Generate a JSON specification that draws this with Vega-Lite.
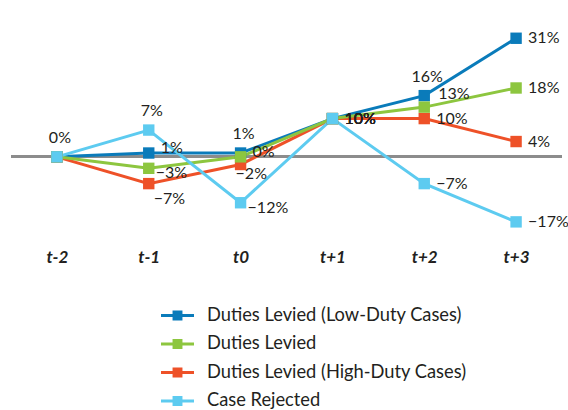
{
  "$schema": "https://vega.github.io/schema/vega-lite/v6.json",
  "width": 551,
  "height": 241,
  "autosize": {"type": "none"},
  "padding": {"left": 11, "top": 0, "right": 6, "bottom": 169},
  "background": "white",
  "config": {"view": {"stroke": null}, "font": "Lato"},
  "data": {"values": [
    {"t": "t-2", "s": "Duties Levied (Low-Duty Cases)", "v": 0},
    {"t": "t-1", "s": "Duties Levied (Low-Duty Cases)", "v": 1},
    {"t": "t0", "s": "Duties Levied (Low-Duty Cases)", "v": 1},
    {"t": "t+1", "s": "Duties Levied (Low-Duty Cases)", "v": 10},
    {"t": "t+2", "s": "Duties Levied (Low-Duty Cases)", "v": 16},
    {"t": "t+3", "s": "Duties Levied (Low-Duty Cases)", "v": 31},
    {"t": "t-2", "s": "Duties Levied (High-Duty Cases)", "v": 0},
    {"t": "t-1", "s": "Duties Levied (High-Duty Cases)", "v": -7},
    {"t": "t0", "s": "Duties Levied (High-Duty Cases)", "v": -2},
    {"t": "t+1", "s": "Duties Levied (High-Duty Cases)", "v": 10},
    {"t": "t+2", "s": "Duties Levied (High-Duty Cases)", "v": 10},
    {"t": "t+3", "s": "Duties Levied (High-Duty Cases)", "v": 4},
    {"t": "t-2", "s": "Duties Levied", "v": 0},
    {"t": "t-1", "s": "Duties Levied", "v": -3},
    {"t": "t0", "s": "Duties Levied", "v": 0},
    {"t": "t+1", "s": "Duties Levied", "v": 10},
    {"t": "t+2", "s": "Duties Levied", "v": 13},
    {"t": "t+3", "s": "Duties Levied", "v": 18},
    {"t": "t-2", "s": "Case Rejected", "v": 0},
    {"t": "t-1", "s": "Case Rejected", "v": 7},
    {"t": "t0", "s": "Case Rejected", "v": -12},
    {"t": "t+1", "s": "Case Rejected", "v": 10},
    {"t": "t+2", "s": "Case Rejected", "v": -7},
    {"t": "t+3", "s": "Case Rejected", "v": -17}
  ]},
  "transform": [
    {"calculate": "format(datum.v, 'd') + '%'", "as": "lab"},
    {"calculate": "datum.t + '|' + datum.s", "as": "key"}
  ],
  "encoding": {
    "x": {
      "field": "t", "type": "ordinal",
      "scale": {"type": "point", "padding": 0.5, "domain": ["t-2", "t-1", "t0", "t+1", "t+2", "t+3"]},
      "axis": {"title": null, "domain": false, "ticks": false, "grid": false, "labelAngle": 0,
               "labelFont": "Lato", "labelFontSize": 17, "labelFontStyle": "italic", "labelFontWeight": "bold",
               "labelColor": "#231f20", "labelPadding": 8}
    },
    "y": {"field": "v", "type": "quantitative", "scale": {"domain": [-22, 41], "nice": false, "zero": false}, "axis": null}
  },
  "layer": [
    {"mark": {"type": "rule", "color": "#8c8c8c", "strokeWidth": 2}, "encoding": {"x": {"value": 0}, "x2": {"value": 551}, "y": {"datum": 0}}},
    {
      "mark": {"type": "line", "strokeWidth": 3},
      "encoding": {
        "color": {
          "field": "s", "type": "nominal",
          "scale": {"domain": ["Duties Levied (Low-Duty Cases)", "Duties Levied", "Duties Levied (High-Duty Cases)", "Case Rejected"],
                    "range": ["#0a7bba", "#8dc63f", "#ee5128", "#5dcbf0"]},
          "legend": {
            "title": null, "orient": "none", "legendX": 150, "legendY": 299, "padding": 0,
            "symbolType": "M-1,-0.09L1,-0.09L1,0.09L-1,0.09Z M-0.3,-0.3L0.3,-0.3L0.3,0.3L-0.3,0.3Z",
            "symbolSize": 1089, "symbolStrokeWidth": 0, "symbolOpacity": 1,
            "labelFont": "Lato", "labelFontSize": 18.3, "labelColor": "#231f20", "labelOffset": 13,
            "rowPadding": 3.5, "labelLimit": 400
          }
        },
        "detail": {"field": "s"}
      }
    },
    {
      "mark": {"type": "point", "shape": "square", "filled": true, "size": 130, "opacity": 1},
      "encoding": {"color": {"field": "s", "type": "nominal"}}
    },
    {
      "transform": [{"filter": "datum.key === 't-2|Case Rejected' || datum.key === 't-1|Case Rejected' || datum.key === 't0|Duties Levied (Low-Duty Cases)' || datum.key === 't+2|Duties Levied (Low-Duty Cases)'"}],
      "mark": {"type": "text", "align": "center", "baseline": "middle", "dx": 3, "dy": -19, "fontSize": 16, "color": "#231f20"},
      "encoding": {"text": {"field": "lab"}}
    },
    {
      "transform": [{"filter": "datum.t === 't+1' || datum.t === 't+3' || datum.key === 't+2|Duties Levied (High-Duty Cases)' || datum.key === 't+2|Case Rejected'"}],
      "mark": {"type": "text", "align": "left", "baseline": "middle", "dx": 12, "dy": 0, "fontSize": 16, "color": "#231f20"},
      "encoding": {"text": {"field": "lab"}}
    },
    {
      "transform": [{"filter": "datum.key === 't-1|Duties Levied (Low-Duty Cases)' || datum.key === 't0|Duties Levied'"}],
      "mark": {"type": "text", "align": "left", "baseline": "middle", "dx": 12, "dy": -5, "fontSize": 16, "color": "#231f20"},
      "encoding": {"text": {"field": "lab"}}
    },
    {
      "transform": [{"filter": "datum.key === 't+2|Duties Levied'"}],
      "mark": {"type": "text", "align": "left", "baseline": "middle", "dx": 14, "dy": -13, "fontSize": 16, "color": "#231f20"},
      "encoding": {"text": {"field": "lab"}}
    },
    {
      "transform": [{"filter": "datum.key === 't-1|Duties Levied' || datum.key === 't0|Case Rejected'"}],
      "mark": {"type": "text", "align": "left", "baseline": "middle", "dx": 7, "dy": 5, "fontSize": 16, "color": "#231f20"},
      "encoding": {"text": {"field": "lab"}}
    },
    {
      "transform": [{"filter": "datum.key === 't-1|Duties Levied (High-Duty Cases)'"}],
      "mark": {"type": "text", "align": "left", "baseline": "middle", "dx": 5, "dy": 15, "fontSize": 16, "color": "#231f20"},
      "encoding": {"text": {"field": "lab"}}
    },
    {
      "transform": [{"filter": "datum.key === 't0|Duties Levied (High-Duty Cases)'"}],
      "mark": {"type": "text", "align": "left", "baseline": "middle", "dx": -5, "dy": 10, "fontSize": 16, "color": "#231f20"},
      "encoding": {"text": {"field": "lab"}}
    }
  ]
}
